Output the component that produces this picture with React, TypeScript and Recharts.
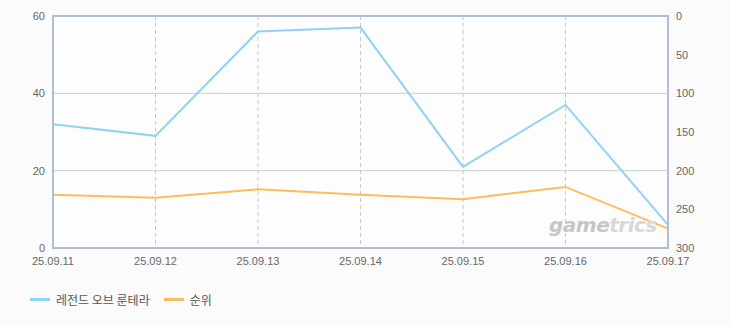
import {
  CartesianGrid,
  Line,
  LineChart,
  ReferenceArea,
  XAxis,
  YAxis,
} from "recharts";

const dates = ["25.09.11", "25.09.12", "25.09.13", "25.09.14", "25.09.15", "25.09.16", "25.09.17"];
const gameValues = [32, 29, 56, 57, 21, 37, 6];
const rankValues = [231, 235, 224, 231, 237, 221, 275];
const leftTicks = [0, 20, 40, 60];
const rightTicks = [0, 50, 100, 150, 200, 250, 300];

const seriesNames = ["레전드 오브 룬테라", "순위"];
const colors = ["#8fd3f2", "#fbbd5c"];

const data = dates.map((d, i) => ({
  date: d,
  game: gameValues[i],
  rank: rankValues[i],
}));

const tickStyle = { fill: "#666", fontSize: 11, fontFamily: "'Liberation Sans', Arial, sans-serif" };
const frame = "#aebfd3";

export default function App() {
  return (
    <div
      style={{
        position: "absolute",
        left: 0,
        top: 0,
        width: 730,
        height: 325,
        background: "#fbfbfb",
        fontFamily: "'Noto Sans CJK KR', sans-serif",
      }}
    >
      <LineChart
        width={730}
        height={325}
        data={data}
        margin={{ top: 16, right: 0, bottom: 57, left: 0 }}
      >
        <CartesianGrid
          yAxisId="left"
          vertical={false}
          stroke="#cfcfcf"
          fill="#fdfdfd"
        />
        <CartesianGrid
          yAxisId="left"
          horizontal={false}
          stroke="#c8c8c8"
          strokeDasharray="4 3"
        />
        <XAxis
          dataKey="date"
          tick={tickStyle}
          tickLine={false}
          axisLine={false}
          tickMargin={3}
          height={20}
          interval={0}
        />
        <YAxis
          yAxisId="left"
          domain={[0, 60]}
          ticks={leftTicks}
          tick={tickStyle}
          tickLine={false}
          axisLine={false}
          tickMargin={2}
          width={53}
        />
        <YAxis
          yAxisId="right"
          orientation="right"
          reversed
          domain={[0, 300]}
          ticks={rightTicks}
          tick={tickStyle}
          tickLine={false}
          axisLine={false}
          tickMargin={2}
          width={62}
        />
        <ReferenceArea
          yAxisId="left"
          x1={dates[0]}
          x2={dates[dates.length - 1]}
          y1={0}
          y2={60}
          fill="none"
          stroke={frame}
          strokeWidth={2}
          fillOpacity={0}
          ifOverflow="visible"
        />
        <Line
          yAxisId="left"
          type="linear"
          dataKey="game"
          name={seriesNames[0]}
          stroke={colors[0]}
          strokeWidth={2}
          dot={false}
          isAnimationActive={false}
        />
        <Line
          yAxisId="right"
          type="linear"
          dataKey="rank"
          name={seriesNames[1]}
          stroke={colors[1]}
          strokeWidth={2}
          dot={false}
          isAnimationActive={false}
        />
      </LineChart>
      <div
        style={{
          position: "absolute",
          left: 549,
          top: 213,
          fontSize: 20,
          fontWeight: 700,
          fontStyle: "italic",
          fontFamily: "'DejaVu Sans', sans-serif",
          letterSpacing: -0.5,
          pointerEvents: "none",
        }}
      >
        <span style={{ color: "#c6c6c6" }}>game</span>
        <span style={{ color: "#d8d8d8" }}>trics</span>
      </div>
      <div
        style={{
          position: "absolute",
          left: 30,
          top: 291,
          display: "flex",
          gap: 14,
          fontSize: 12,
          color: "#555",
        }}
      >
        {seriesNames.map((n, i) => (
          <div key={n} style={{ display: "flex", alignItems: "center" }}>
            <span
              style={{
                display: "inline-block",
                width: 20,
                height: 3,
                background: colors[i],
                marginRight: 6,
              }}
            />
            <span>{n}</span>
          </div>
        ))}
      </div>
    </div>
  );
}
